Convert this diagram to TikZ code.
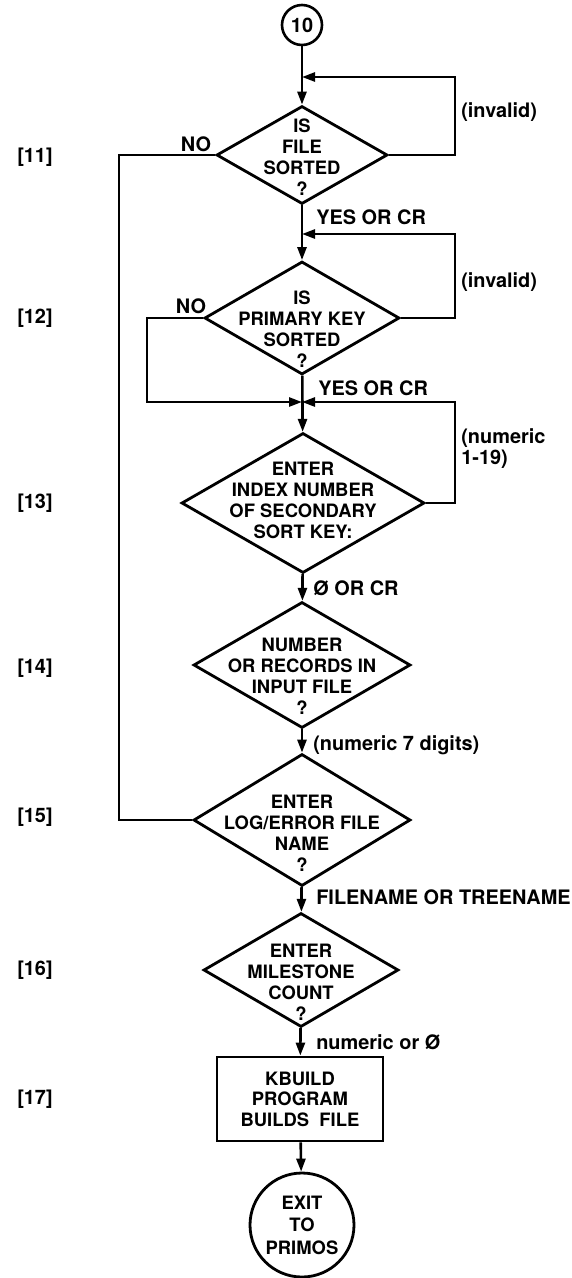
\documentclass[tikz,border=0pt]{standalone}
\usepackage{fontspec}
\setmainfont{TeX Gyre Heros}
\usetikzlibrary{shapes.geometric,arrows.meta}
\begin{document}
\begin{tikzpicture}[x=1bp,y=-1bp,>={Triangle[length=13bp,width=9bp]},line join=miter,
    line width=2.6bp,font=\fontsize{20}{22}\selectfont\bfseries,
    decision/.style={draw,diamond,inner sep=0pt,line width=2.8bp},
    txt/.style={align=center,inner sep=0pt,font=\fontsize{18.5}{21}\selectfont\bfseries},
    lbl/.style={anchor=west,inner sep=0pt},
    stepno/.style={inner sep=0pt},]
    \useasboundingbox (0,0) rectangle (572,1278);
    %%
    \node (10) at (302,25) [draw,circle,minimum size=40bp,inner sep=0pt] {10};
    \node (11) at (302,155) [decision,minimum width=171bp,minimum height=98bp] {};
    \node (12) at (302,318) [decision,minimum width=195bp,minimum height=113bp] {};
    \node (13) at (303,503) [decision,minimum width=243bp,minimum height=140bp] {};
    \node (14) at (302,665) [decision,minimum width=217bp,minimum height=126bp] {};
    \node (15) at (302,820) [decision,minimum width=217bp,minimum height=132bp] {};
    \node (16) at (301,970) [decision,minimum width=195bp,minimum height=114bp] {};
    \node (17) at (300,1099) [draw,rectangle,line width=2.8bp,minimum width=166bp,minimum height=84bp,align=center,font=\fontsize{18.5}{20.5}\selectfont\bfseries] {KBUILD\\PROGRAM\\BUILDS~~FILE};
    \node (exit) at (302,1225) [draw,circle,line width=2.8bp,minimum size=104bp,inner sep=0pt,align=center,font=\fontsize{18.5}{22.5}\selectfont\bfseries] {EXIT\\TO\\PRIMOS};
    %
    \node (11t) at (302,157) [txt] {IS\\FILE\\SORTED\\?};
    \node (12t) at (302,329) [txt] {IS\\PRIMARY KEY\\SORTED\\?};
    \node (13t) at (303,500) [txt] {ENTER\\INDEX NUMBER\\OF SECONDARY\\SORT KEY:};
    \node (14t) at (302,676) [txt] {NUMBER\\OR RECORDS IN\\INPUT FILE\\?};
    \node (15t) at (302,833) [txt] {ENTER\\LOG/ERROR FILE\\NAME\\?};
    \node (16t) at (301,982) [txt] {ENTER\\MILESTONE\\COUNT\\?};
    %
    \coordinate (j11) at (302,77);
    \coordinate (j12) at (302,234);
    \coordinate (j13) at (302,402);
    \coordinate (loopx) at (455,0);
    \coordinate (nox) at (119,0);
    \coordinate (no12x) at (147,0);
    %
    \draw [->] (10) -- (11);
    \draw [->] (11) -- (12);
    \draw [->] (12) -- (13);
    \draw [->] (13) -- (14);
    \draw [->] (14) -- (15);
    \draw [->] (15) -- (16);
    \draw [->] (16) -- (17);
    \draw [->] (17) -- (exit);
    \draw [->] (11.east) -| (loopx |- j11) -- (j11);
    \draw [->] (12.east) -| (loopx |- j12) -- (j12);
    \draw [->] (13.east) -| (loopx |- j13) -- (j13);
    \draw [->] (12.west) -| (no12x |- j13) -- (j13);
    \draw [] (11.west) -| (nox |- 15.west) -- (15.west);
    %
    \node (no11) at (196,144) {NO};
    \node (no12) at (191,306) {NO};
    \node (inv11) at (460,112) [lbl] {(invalid)};
    \node (inv12) at (460,282) [lbl] {(invalid)};
    \node (num13) at (460,449) [lbl,align=left,font=\fontsize{20}{21}\selectfont\bfseries] {(numeric\\1-19)};
    \node (yes11) at (315,217) [lbl] {YES OR CR};
    \node (yes12) at (317,388) [lbl] {YES OR CR};
    \node (zero13) at (312,588) [lbl] {Ø OR CR};
    \node (num14) at (312,745) [lbl] {(numeric 7 digits)};
    \node (name15) at (315,897) [lbl] {FILENAME OR TREENAME};
    \node (num16) at (315,1042) [lbl] {numeric or Ø};
    \foreach \n/\y in {11/157,12/318,13/503,14/668,15/817,16/970,17/1099}
        \node (s\n) at (35,\y) [stepno] {[\n]};
    %
\end{tikzpicture}
\end{document}
